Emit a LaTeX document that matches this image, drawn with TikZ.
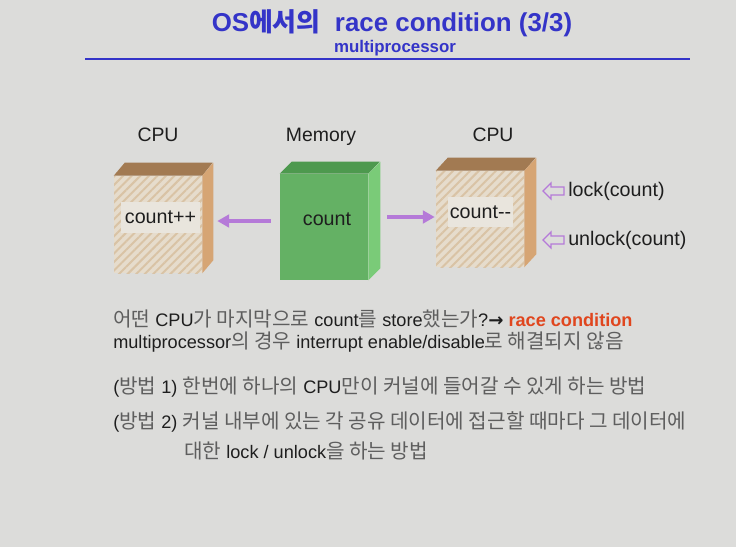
\documentclass[tikz,border=0pt]{standalone}
\usepackage{fontspec}
\setmainfont{Liberation Sans}
\newfontfamily\kfont[Scale=1.11]{Noto Sans CJK KR}
\newfontfamily\ktitle{Noto Sans CJK KR}
\newfontfamily\symfont{DejaVu Sans}
\usetikzlibrary{arrows.meta, calc, patterns.meta}
\definecolor{SlideBg}{HTML}{DCDCDA}
\definecolor{TitleBlue}{HTML}{3434C8}
\definecolor{TextDark}{HTML}{1E1E1E}
\definecolor{KorGray}{HTML}{5E5E5E}
\definecolor{RaceRed}{HTML}{E0461E}
\definecolor{CpuFront}{HTML}{E6DCCC}
\definecolor{CpuHatch}{HTML}{D9C3A5}
\definecolor{CpuTop}{HTML}{A27A52}
\definecolor{CpuSide}{HTML}{D6A574}
\definecolor{LblFill}{HTML}{E9E5DD}
\definecolor{MemFront}{HTML}{64B164}
\definecolor{MemTop}{HTML}{4D994E}
\definecolor{MemSide}{HTML}{7ACB78}
\definecolor{FlowPurple}{HTML}{B57AD8}
\newdimen\pxu \pxu=0.025cm
\newcommand\kr[1]{{\kfont\color{KorGray}#1}}

\begin{document}
\begin{tikzpicture}[
    x=0.025cm, y=-0.025cm,
    cube/.style={minimum width=88\pxu, inner sep=0pt, draw=none},
    cpuface/.style={cube, fill=CpuFront,
                    postaction={pattern={Lines[angle=45, distance=4.3pt, line width=1.4pt]},
                                pattern color=CpuHatch}},
    memface/.style={cube, fill=MemFront},
    lbl/.style={inner sep=0pt, font=\fontsize{14}{16}\selectfont, text=TextDark},
    head/.style={anchor=base, font=\fontsize{13.8}{16}\selectfont, text=TextDark},
    flow/.style={-{Triangle[length=8.5pt, width=9pt]}, line width=2.6pt, draw=FlowPurple},
    hollow/.style={draw=FlowPurple, line width=0.9pt, fill=SlideBg, line join=miter},
    body/.style={anchor=base west, inner sep=0pt, font=\fontsize{12.9}{16}\selectfont, text=TextDark},
  ]
    \fill[SlideBg] (0,0) rectangle (736,547);
    \useasboundingbox (0,0) rectangle (736,547);

    % =================== 제목 ===================
    \node[anchor=base, inner sep=0pt, text=TitleBlue, font=\fontsize{18.4}{20}\selectfont\bfseries]
      (title) at (392,31) {OS{\ktitle 에서의}\ \ race condition (3/3)};
    \node[anchor=base, inner sep=0pt, text=TitleBlue, font=\fontsize{12}{14}\selectfont\bfseries]
      (sub) at (395,52) {multiprocessor};
    \draw[TitleBlue, line width=2.1pt] (85,59) -- (690,59);

    % =================== 상자 ===================
    \node[head] (hcpuL) at (158,141) {CPU};
    \node[head] (hmem)  at (321,141) {Memory};
    \node[head] (hcpuR) at (493,141) {CPU};

    % 왼쪽 CPU
    \node[cpuface, minimum height=97\pxu] (cpuL) at (158,224.5) {};
    \fill[CpuTop] (cpuL.north west) -- ++(11,-13) -- ++(88,0) -- (cpuL.north east) -- cycle;
    \fill[CpuSide] (cpuL.north east) -- ++(11,-13) -- ($(cpuL.south east)+(11,-13)$) -- (cpuL.south east) -- cycle;
    \node[lbl, fill=LblFill, minimum width=79\pxu, minimum height=31\pxu] (cntL) at (160.5,217.5) {count++};

    % Memory
    \node[memface, minimum height=106\pxu] (mem) at (324,227) {};
    \fill[MemTop] (mem.north west) -- ++(12,-12) -- ++(88,0) -- (mem.north east) -- cycle;
    \fill[MemSide] (mem.north east) -- ++(12,-12) -- ($(mem.south east)+(12,-12)$) -- (mem.south east) -- cycle;
    \node[lbl] (cntM) at (327,219) {count};

    % 오른쪽 CPU
    \node[cpuface, minimum height=96\pxu] (cpuR) at (480,219) {};
    \fill[CpuTop] (cpuR.north west) -- ++(12,-13) -- ++(88,0) -- (cpuR.north east) -- cycle;
    \fill[CpuSide] (cpuR.north east) -- ++(12,-13) -- ($(cpuR.south east)+(12,-13)$) -- (cpuR.south east) -- cycle;
    \node[lbl, fill=LblFill, minimum width=65\pxu, minimum height=30\pxu] (cntR) at (480.5,212) {count{-}{-}};

    % 화살표
    \draw[flow] ($(mem.west)+(-9,-6)$) -- ($(cpuL.east)+(15,-3.5)$);
    \draw[flow] ($(mem.east)+(19,-10)$) -- ($(cpuR.west)+(-1,-2)$);

    % lock / unlock
    \node[lbl, anchor=base west] (lock)   at (568,196) {lock(count)};
    \node[lbl, anchor=base west] (unlock) at (568,245) {unlock(count)};
    \draw[hollow] ($(lock.west)+(-25,0)$) -- ++(8,-8) -- ++(0,4) -- ++(13,0) -- ++(0,8)
      -- ++(-13,0) -- ++(0,4) -- cycle;
    \draw[hollow] ($(unlock.west)+(-25,0)$) -- ++(8,-8) -- ++(0,4) -- ++(13,0) -- ++(0,8)
      -- ++(-13,0) -- ++(0,4) -- cycle;

    % =================== 본문 ===================
    \node[body] (l1) at (113,326) {\kr{어떤} CPU\kr{가 마지막으로} count\kr{를} store\kr{했는가}?{\symfont\bfseries →}
      {\color{RaceRed}\bfseries race condition}};
    \node[body] (l2) at (113,348) {multiprocessor\kr{의 경우} interrupt enable/disable\kr{로 해결되지 않음}};
    \node[body] (l3) at (113,393) {(\kr{방법} 1) \kr{한번에 하나의} CPU\kr{만이 커널에 들어갈 수 있게 하는 방법}};
    \node[body] (l4) at (113,428) {(\kr{방법} 2) \kr{커널 내부에 있는 각 공유 데이터에 접근할 때마다 그 데이터에}};
    \node[body] (l5) at (184,458) {\kr{대한} lock / unlock\kr{을 하는 방법}};
  \end{tikzpicture}
\end{document}
